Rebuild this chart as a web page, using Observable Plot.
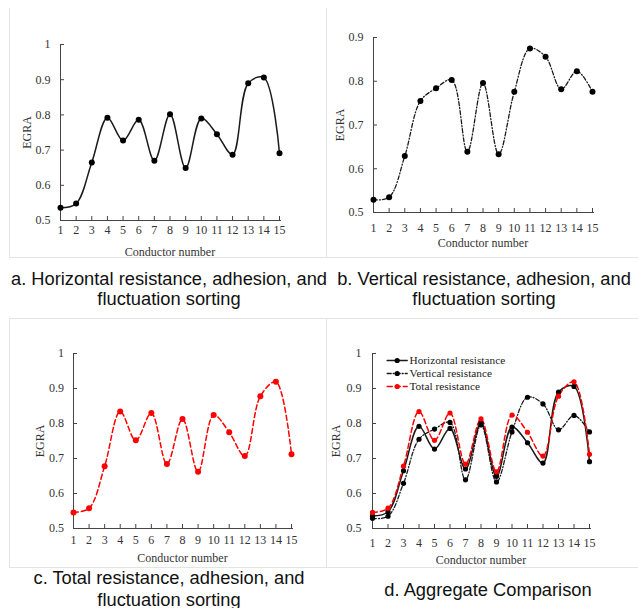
<!DOCTYPE html>
<html><head><meta charset="utf-8">
<script src="https://cdn.jsdelivr.net/npm/d3@7"></script>
<script src="https://cdn.jsdelivr.net/npm/@observablehq/plot@0.6"></script>
<style>
html,body{margin:0;padding:0;background:#fff;}
#page{position:relative;width:638px;height:608px;overflow:hidden;background:#fff;}
.panel{position:absolute;}
.panel svg text{font-family:"Liberation Serif","Times New Roman",serif;}
.cap{position:absolute;font-family:"Liberation Sans",Arial,sans-serif;font-size:18.3px;color:#111;text-align:center;white-space:nowrap;}
.hl{position:absolute;background:#e4e4e4;height:1px;}
.vl{position:absolute;background:#e4e4e4;width:1px;}
</style></head><body><div id="page"></div>
<script>
// ---------- data ----------
const conductors = [1, 2, 3, 4, 5, 6, 7, 8, 9, 10, 11, 12, 13, 14, 15];
const horizontal = [0.536, 0.548, 0.665, 0.792, 0.727, 0.786, 0.670, 0.802, 0.649, 0.790, 0.745, 0.687, 0.890, 0.906, 0.691];
const vertical   = [0.529, 0.535, 0.629, 0.755, 0.784, 0.803, 0.639, 0.796, 0.633, 0.776, 0.875, 0.856, 0.782, 0.823, 0.776];
const total      = [0.546, 0.558, 0.678, 0.834, 0.752, 0.830, 0.684, 0.813, 0.662, 0.824, 0.775, 0.707, 0.878, 0.919, 0.712];
const yTicksFull = [0.5, 0.6, 0.7, 0.8, 0.9, 1];
const yTicksVertical = [0.5, 0.6, 0.7, 0.8, 0.9];
const seriesNames = ["Horizontal resistance", "Vertical resistance", "Total resistance"];
const xAxisTitle = "Conductor number";
const yAxisTitle = "EGRA";
const captionA = ["a. Horizontal resistance, adhesion, and", "fluctuation sorting"];
const captionB = ["b. Vertical resistance, adhesion, and", "fluctuation sorting"];
const captionC = ["c. Total resistance, adhesion, and", "fluctuation sorting"];
const captionD = ["d. Aggregate Comparison"];

// ---------- styles ----------
const AX = "#444";
const FONT = "Liberation Serif";
const styleH = {stroke: "#1a1a1a", strokeWidth: 1.5, dash: null, fill: "#000"};
const styleV = {stroke: "#1a1a1a", strokeWidth: 1.3, dash: "4,2,1,2", fill: "#000"};
const styleT = {stroke: "#ff0000", strokeWidth: 1.5, dash: "5,3", fill: "#ff0000"};

const rows = (vals) => conductors.map((c, i) => ({c, v: vals[i]}));

const legendLine = {draw(context, l) { context.moveTo(0, 0); context.lineTo(0, -l); }};

function makePanel(cfg) {
  const innerW = cfg.width - cfg.mL - cfg.mR;
  const innerH = cfg.height - cfg.mT - cfg.mB;
  const marks = [
    Plot.ruleX([1], {stroke: AX}),
    Plot.ruleY([cfg.yTicks[0]], {stroke: AX, insetRight: -2}),
    Plot.tickX(conductors, {x: d => d, stroke: AX, insetTop: innerH - 4}),
    Plot.tickY(cfg.yTicks, {y: d => d, stroke: AX, insetRight: innerW - 4}),
    Plot.axisX(conductors, {tickSize: 0, tickPadding: cfg.xPad, tickFormat: d => String(d), fill: "#333", fontFamily: FONT, fontSize: 12, label: null}),
    Plot.axisY(cfg.yTicks, {tickSize: 0, tickPadding: cfg.yPad, tickFormat: d => String(d), fill: "#333", fontFamily: FONT, fontSize: 12, label: null}),
    Plot.text([xAxisTitle], {text: d => d, frameAnchor: "bottom", dy: cfg.xLabelDy, lineAnchor: "middle", fill: "#333", fontFamily: FONT, fontSize: 12}),
    Plot.text([yAxisTitle], {text: d => d, frameAnchor: "left", dx: cfg.yLabelDx, rotate: -90, textAnchor: "middle", lineAnchor: "middle", fill: "#333", fontFamily: FONT, fontSize: 12})
  ];
  for (const s of cfg.series) {
    marks.push(Plot.line(rows(s.values), {x: "c", y: "v", curve: "catmull-rom", stroke: s.style.stroke, strokeWidth: s.style.strokeWidth, strokeDasharray: s.style.dash}));
  }
  for (const s of cfg.series) {
    marks.push(Plot.dot(rows(s.values), {x: "c", y: "v", r: cfg.r, fill: s.style.fill}));
  }
  if (cfg.legend) {
    cfg.series.forEach((s, i) => {
      const dy = 7 + i * 13;
      marks.push(Plot.vector([s.name], {frameAnchor: "top-left", dx: 14.7, dy, length: 20, rotate: 90, anchor: "start", shape: legendLine, stroke: s.style.stroke, strokeWidth: s.style.strokeWidth, strokeDasharray: s.style.dash}));
      marks.push(Plot.dot([s.name], {frameAnchor: "top-left", dx: 24.7, dy, r: 2.6, fill: s.style.fill}));
      marks.push(Plot.text([s.name], {text: d => d, frameAnchor: "top-left", dx: 37, dy, textAnchor: "start", lineAnchor: "middle", fill: "#222", fontFamily: FONT, fontSize: 11.3}));
    });
  }
  const svg = Plot.plot({
    width: cfg.width, height: cfg.height,
    marginLeft: cfg.mL, marginRight: cfg.mR, marginTop: cfg.mT, marginBottom: cfg.mB,
    style: {fontFamily: FONT, fontSize: "12px", background: "transparent", color: "#333", overflow: "visible"},
    x: {domain: [1, 15], label: null},
    y: {domain: [cfg.yTicks[0], cfg.yTicks[cfg.yTicks.length - 1]], label: null},
    marks
  });
  const wrap = document.createElement("div");
  wrap.className = "panel";
  wrap.style.left = cfg.left + "px";
  wrap.style.top = cfg.top + "px";
  wrap.appendChild(svg);
  return wrap;
}

const page = document.getElementById("page");

// light frames around the four figure images
function line(cls, l, t, len) {
  const d = document.createElement("div");
  d.className = cls;
  d.style.left = l + "px"; d.style.top = t + "px";
  if (cls === "hl") d.style.width = len + "px"; else d.style.height = len + "px";
  page.appendChild(d);
}
line("vl", 9, 8, 249); line("vl", 326, 8, 249); line("hl", 9, 257, 629);
line("hl", 9, 318, 629); line("vl", 9, 318, 249); line("vl", 326, 318, 249); line("hl", 9, 567, 629);

page.appendChild(makePanel({left: 0, top: 0, width: 320, height: 262, mL: 60, mR: 41, mT: 44, mB: 42,
  yTicks: yTicksFull, xPad: 5.4, yPad: 10, xLabelDy: 32, yLabelDx: -33, r: 3,
  series: [{name: seriesNames[0], values: horizontal, style: styleH}]}));
page.appendChild(makePanel({left: 320, top: 0, width: 318, height: 262, mL: 53, mR: 46, mT: 37, mB: 50,
  yTicks: yTicksVertical, xPad: 11.4, yPad: 10, xLabelDy: 30.5, yLabelDx: -33, r: 3,
  series: [{name: seriesNames[1], values: vertical, style: styleV}]}));
page.appendChild(makePanel({left: 0, top: 310, width: 320, height: 262, mL: 73, mR: 29, mT: 43, mB: 44,
  yTicks: yTicksFull, xPad: 7.4, yPad: 9.5, xLabelDy: 30, yLabelDx: -33, r: 3,
  series: [{name: seriesNames[2], values: total, style: styleT}]}));
page.appendChild(makePanel({left: 320, top: 310, width: 318, height: 262, mL: 52, mR: 49, mT: 43, mB: 44,
  yTicks: yTicksFull, xPad: 10.4, yPad: 11, xLabelDy: 32, yLabelDx: -36, r: 2.6, legend: true,
  series: [{name: seriesNames[0], values: horizontal, style: styleH},
           {name: seriesNames[1], values: vertical, style: styleV},
           {name: seriesNames[2], values: total, style: styleT}]}));

function caption(lines, cx, firstY, lh) {
  lines.forEach((txt, i) => {
    const d = document.createElement("div");
    d.className = "cap";
    d.textContent = txt;
    d.style.width = "400px";
    d.style.left = (cx - 200) + "px";
    d.style.top = (firstY + i * lh - 11) + "px";
    d.style.lineHeight = "22px";
    page.appendChild(d);
  });
}
caption(captionA, 169, 279, 19.5);
caption(captionB, 484, 279, 19.5);
caption(captionC, 169, 578, 21.5);
caption(captionD, 488, 590, 20);
</script></body></html>
